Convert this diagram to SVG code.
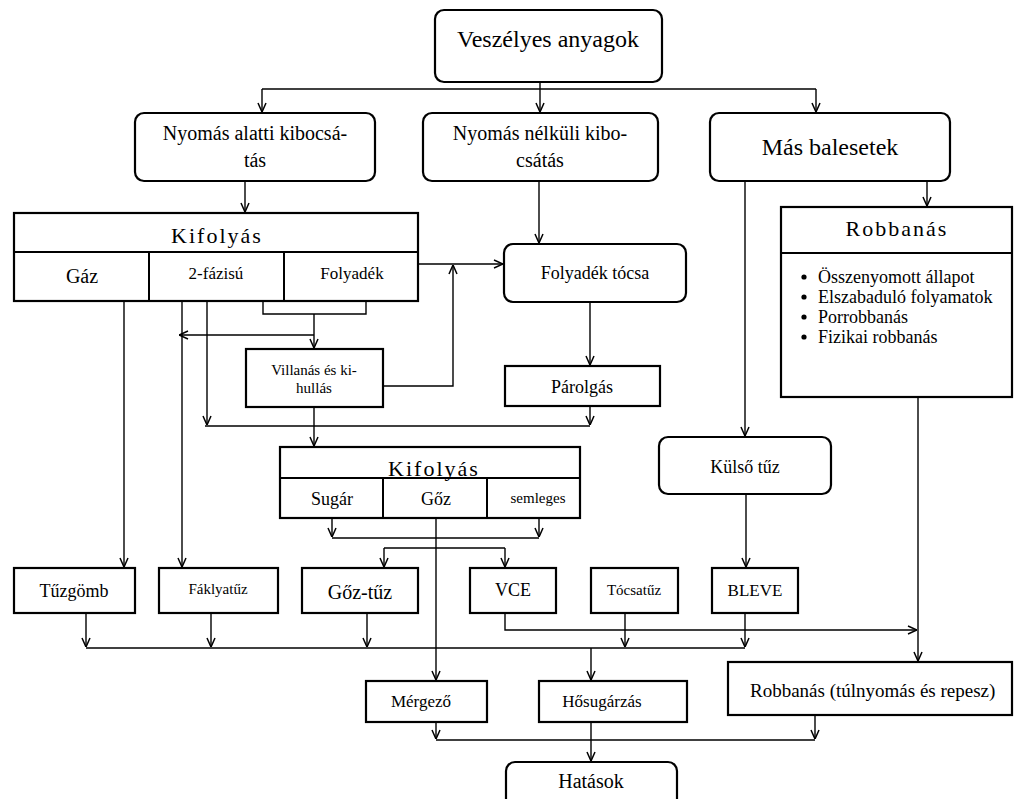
<svg xmlns="http://www.w3.org/2000/svg" width="1021" height="799" viewBox="0 0 1021 799">
  <defs>
    <marker id="ah" viewBox="0 0 10 10" refX="10" refY="5" markerWidth="10" markerHeight="10" markerUnits="userSpaceOnUse" orient="auto">
      <path d="M1,1 L10,5 L1,9" fill="none" stroke="#000" stroke-width="1.5"/>
    </marker>
    <style>
      .box { fill: #fff; stroke: #000; stroke-width: 2.2; }
      .div { stroke: #000; stroke-width: 2; fill: none; }
      .ln { fill: none; stroke: #000; stroke-width: 1.4; }
      .arr { fill: none; stroke: #000; stroke-width: 1.4; marker-end: url(#ah); }
      text { font-family: "Liberation Serif", "Times New Roman", serif; fill: #000; text-anchor: middle; }
      .t24 { font-size: 24px; }
      .t20 { font-size: 20px; }
      .t18 { font-size: 18px; }
      .t17 { font-size: 17px; }
      .t15 { font-size: 15px; }
      .hd { font-size: 22px; letter-spacing: 2px; }
      .bl { font-size: 18px; text-anchor: start; }
    </style>
  </defs>

  <!-- connectors -->
  <g id="connectors">
    <path class="ln" d="M262,89 H816"/>
    <path class="arr" d="M540,82 V112"/>
    <path class="arr" d="M262,89 V112"/>
    <path class="arr" d="M816,89 V112"/>
    <path class="arr" d="M245,181 V212"/>
    <path class="arr" d="M539,181 V243"/>
    <path class="arr" d="M745,181 V436"/>
    <path class="arr" d="M927,181 V206"/>
    <path class="arr" d="M418,264 H503"/>
    <path class="arr" d="M383,386 H453 V265"/>
    <path class="ln" d="M263,301 V314 H366 V301"/>
    <path class="arr" d="M314,314 V348"/>
    <path class="arr" d="M314,335 H179"/>
    <path class="arr" d="M124,301 V567"/>
    <path class="arr" d="M182,301 V567"/>
    <path class="arr" d="M207,301 V425"/>
    <path class="arr" d="M590,302 V365"/>
    <path class="arr" d="M590,406 V425"/>
    <path class="ln" d="M205,426 H590"/>
    <path class="arr" d="M314,407 V446"/>
    <path class="arr" d="M332,518 V537"/>
    <path class="arr" d="M539,518 V537"/>
    <path class="ln" d="M332,538 H539"/>
    <path class="arr" d="M436,518 V680"/>
    <path class="ln" d="M384,548 H505"/>
    <path class="arr" d="M384,548 V567"/>
    <path class="arr" d="M505,548 V567"/>
    <path class="arr" d="M746,494 V567"/>
    <path class="arr" d="M86,613 V647"/>
    <path class="arr" d="M211,613 V647"/>
    <path class="arr" d="M367,613 V647"/>
    <path class="arr" d="M625,613 V647"/>
    <path class="arr" d="M745,613 V647"/>
    <path class="ln" d="M86,648 H745"/>
    <path class="arr" d="M505,613 V630 H917"/>
    <path class="arr" d="M918,397 V661"/>
    <path class="arr" d="M591,648 V680"/>
    <path class="arr" d="M436,722 V739"/>
    <path class="arr" d="M815,715 V739"/>
    <path class="ln" d="M436,740 H815"/>
    <path class="arr" d="M591,722 V761"/>
  </g>

  <g id="veszelyes-anyagok">
    <rect class="box" x="435" y="10" width="227" height="72" rx="9"/>
    <text class="t24" x="548" y="47">Veszélyes anyagok</text>
  </g>

  <g id="nyomas-alatti">
    <rect class="box" x="135" y="113" width="240" height="68" rx="9"/>
    <text class="t20" x="255" y="140">Nyomás alatti kibocsá-</text>
    <text class="t20" x="255" y="167">tás</text>
  </g>

  <g id="nyomas-nelkuli">
    <rect class="box" x="423" y="113" width="235" height="68" rx="9"/>
    <text class="t20" x="540" y="140">Nyomás nélküli kibo-</text>
    <text class="t20" x="540" y="167">csátás</text>
  </g>

  <g id="mas-balesetek">
    <rect class="box" x="710" y="113" width="240" height="68" rx="9"/>
    <text class="t24" x="830" y="155">Más balesetek</text>
  </g>

  <g id="kifolyas-1">
    <rect class="box" x="14" y="213" width="404" height="88"/>
    <path class="div" d="M14,252 H418 M149,252 V301 M284,252 V301"/>
    <text class="hd" x="217" y="243">Kifolyás</text>
    <text class="t20" x="82" y="283">Gáz</text>
    <text class="t17" x="216" y="279">2-fázisú</text>
    <text class="t17" x="352" y="279">Folyadék</text>
  </g>

  <g id="folyadek-tocsa">
    <rect class="box" x="504" y="244" width="182" height="58" rx="9"/>
    <text class="t18" x="595" y="279">Folyadék tócsa</text>
  </g>

  <g id="villanas">
    <rect class="box" x="246" y="349" width="137" height="58"/>
    <text class="t15" x="314" y="375">Villanás és ki-</text>
    <text class="t15" x="314" y="393">hullás</text>
  </g>

  <g id="parolgas">
    <rect class="box" x="505" y="366" width="155" height="40"/>
    <text class="t18" x="582" y="393">Párolgás</text>
  </g>

  <g id="robbanas">
    <rect class="box" x="781" y="207" width="231" height="190"/>
    <path class="div" d="M781,253 H1012"/>
    <text class="hd" x="897" y="236">Robbanás</text>
    <circle cx="804" cy="277" r="2.6"/>
    <circle cx="804" cy="297" r="2.6"/>
    <circle cx="804" cy="317" r="2.6"/>
    <circle cx="804" cy="337" r="2.6"/>
    <text class="bl" x="818" y="283">Összenyomott állapot</text>
    <text class="bl" x="818" y="303">Elszabaduló folyamatok</text>
    <text class="bl" x="818" y="323">Porrobbanás</text>
    <text class="bl" x="818" y="343">Fizikai robbanás</text>
  </g>

  <g id="kulso-tuz">
    <rect class="box" x="659" y="437" width="172" height="57" rx="9"/>
    <text class="t18" x="745" y="473">Külső tűz</text>
  </g>

  <g id="kifolyas-2">
    <rect class="box" x="280" y="447" width="300" height="71"/>
    <path class="div" d="M280,478 H580 M383,478 V518 M487,478 V518"/>
    <text class="hd" x="434" y="476">Kifolyás</text>
    <text class="t18" x="332" y="505">Sugár</text>
    <text class="t18" x="436" y="505">Gőz</text>
    <text class="t15" x="538" y="503">semleges</text>
  </g>

  <g id="tuzgomb">
    <rect class="box" x="14" y="568" width="121" height="45"/>
    <text class="t18" x="74" y="597">Tűzgömb</text>
  </g>

  <g id="faklyatuz">
    <rect class="box" x="159" y="568" width="119" height="45"/>
    <text class="t15" x="218" y="594">Fáklyatűz</text>
  </g>

  <g id="goz-tuz">
    <rect class="box" x="302" y="568" width="116" height="45"/>
    <text class="t20" x="360" y="599">Gőz-tűz</text>
  </g>

  <g id="vce">
    <rect class="box" x="470" y="568" width="86" height="45"/>
    <text class="t18" x="513" y="596">VCE</text>
  </g>

  <g id="tocsatuz">
    <rect class="box" x="591" y="568" width="87" height="45"/>
    <text class="t15" x="634" y="595">Tócsatűz</text>
  </g>

  <g id="bleve">
    <rect class="box" x="712" y="568" width="86" height="45"/>
    <text class="t17" x="755" y="596">BLEVE</text>
  </g>

  <g id="mergezo">
    <rect class="box" x="366" y="681" width="121" height="41"/>
    <text class="t17" x="421" y="707">Mérgező</text>
  </g>

  <g id="hosugarzas">
    <rect class="box" x="539" y="681" width="148" height="41"/>
    <text class="t17" x="602" y="707">Hősugárzás</text>
  </g>

  <g id="robbanas-tulnyomas">
    <rect class="box" x="728" y="662" width="284" height="53"/>
    <text x="750" y="697" style="text-anchor:start;font-size:19px">Robbanás (túlnyomás és repesz)</text>
  </g>

  <g id="hatasok">
    <rect class="box" x="506" y="762" width="171" height="50" rx="9"/>
    <text class="t20" x="591" y="788">Hatások</text>
  </g>
</svg>
